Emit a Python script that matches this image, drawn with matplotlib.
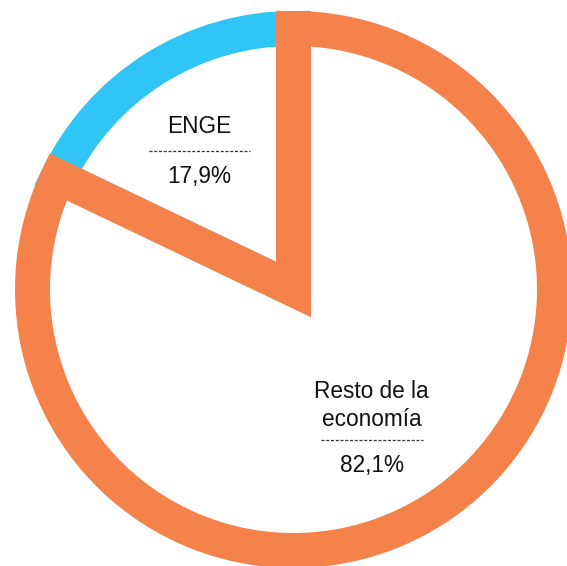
import matplotlib.pyplot as plt

# data
labels = ["ENGE", "Resto de la\neconomía"]
values = [17.9, 82.1]
value_text = ["17,9%", "82,1%"]
colors = ["#30C5F5", "#F5824A"]

# label anchors (pie units, radius = 1): baseline of first line
label_pos = [(-0.36, 0.60), (0.30, -0.415)]
rule_gap = [0.07, 0.055]

plt.rcParams['font.family'] = ['Liberation Sans', 'DejaVu Sans']

fig = plt.figure(figsize=(5.67, 5.66), dpi=100)
ax = fig.add_axes([0, 0, 1, 1])

wedges, _ = ax.pie(values, startangle=90, counterclock=True, radius=1.0,
                   colors=["white", "white"])
for w, c in zip(wedges, colors):
    w.set_edgecolor(c)
    w.set_linewidth(25.2)
    w.set_joinstyle('miter')

line_h = 0.107
# labels: name, dotted rule, value
for i, (lab, val) in enumerate(zip(labels, value_text)):
    x, y = label_pos[i]
    lines = lab.split("\n")
    for k, s in enumerate(lines):
        ax.text(x, y - k * line_h, s, ha='center', va='baseline',
                fontsize=16.3, color='#111111')
    rule_y = y - rule_gap[i] - (len(lines) - 1) * line_h
    ax.plot([x - 0.195, x + 0.195], [rule_y, rule_y], color='#333333',
            lw=0.9, dashes=(2.4, 1.4))
    ax.text(x, rule_y - 0.122, val, ha='center', va='baseline',
            fontsize=16.3, color='#111111')

ax.set_xlim(-293.5 / 261, (567 - 293.5) / 261)
ax.set_ylim((289.5 - 566) / 261, 289.5 / 261)
ax.set_aspect('auto')
ax.axis('off')

fig.savefig("out.png", dpi=100)
